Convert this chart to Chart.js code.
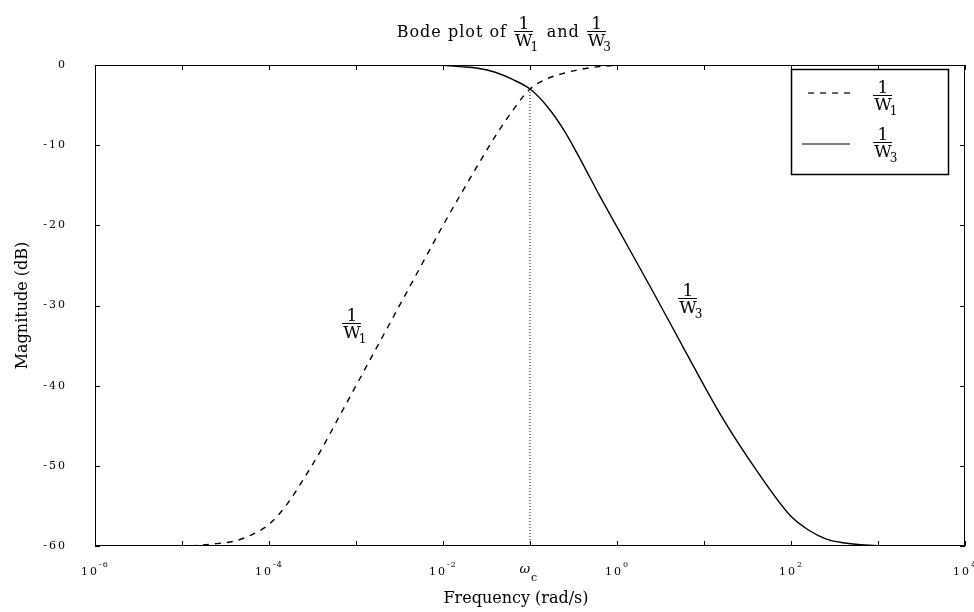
<!DOCTYPE html>
<html>
<head>
<meta charset="utf-8">
<script src="https://cdn.jsdelivr.net/npm/chart.js@4/dist/chart.umd.min.js"></script>
<style>
  body { margin: 0; background: #fff; }
  canvas { display: block; }
</style>
</head>
<body>
<canvas id="bode" width="974" height="612"></canvas>
<script>
// frequency exponents (log10 of rad/s) where the curves were read
const freqExp = [-6, -5, -4.6, -4.4, -4.2, -4, -3.8, -3.6, -3.4, -3.2, -3, -2.6, -2.2, -2, -1.8, -1.6,
  -1.4, -1.2, -1, -0.8, -0.6, -0.4, -0.2, 0, 0.4, 0.8, 1.2, 1.6, 2, 2.2, 2.4, 2.6, 2.8, 3, 4];

// 1/W1 (dashed), dB
const w1Mag = [-60, -60, -59.7, -59.4, -58.6, -57.3, -54.9, -51.6, -48, -44, -40, -32, -24, -20, -16.2, -12.5,
  -8.9, -5.7, -3, -1.7, -1.0, -0.5, -0.2, -0.05, 0, 0, 0, 0, 0, 0, 0, 0, 0, 0, 0];

// 1/W3 (solid), dB
const w3Mag = [0, 0, 0, 0, 0, 0, 0, 0, 0, 0, 0, 0, -0.02, -0.05, -0.2, -0.4,
  -0.9, -1.8, -3, -5.2, -8.3, -12.2, -16.3, -20.2, -28, -36, -43.8, -50.5, -56.3, -58, -59.1, -59.6, -59.85, -59.95, -60];

const wcExp = -1;              // crossover frequency omega_c
const xTickExp = [-6, -4, -2, 0, 2, 4];
const yTicks = [0, -10, -20, -30, -40, -50, -60];

const SERIF = '"DejaVu Serif", "Liberation Serif", serif';

function toPoints(mags) {
  return freqExp.map((e, i) => ({ x: Math.pow(10, e), y: mags[i] }));
}

// draw 1/W_n as a small fraction
function frac(ctx, cx, barY, sub, size) {
  ctx.letterSpacing = '0px';
  ctx.font = size + 'px ' + SERIF;
  const w = ctx.measureText('W').width;
  ctx.textAlign = 'center';
  ctx.textBaseline = 'alphabetic';
  ctx.fillText('1', cx, barY - 2);
  ctx.fillRect(Math.round(cx - w / 2 - 1), barY, Math.round(w + 2), 1);
  ctx.fillText('W', cx, barY + Math.round(size * 0.8) + 1);
  ctx.font = Math.round(size * 0.72) + 'px ' + SERIF;
  ctx.textAlign = 'left';
  ctx.fillText(sub, cx + w / 2 - 2, barY + Math.round(size * 1.15));
  return w + 2;
}

function seg(ctx, x1, y1, x2, y2) {
  ctx.beginPath();
  ctx.moveTo(x1, y1);
  ctx.lineTo(x2, y2);
  ctx.stroke();
}

const decor = {
  id: 'decor',
  afterDatasetsDraw(chart) {
    // y tick labels are drawn after this (ticks.z = 1): give them wide spacing
    chart.ctx.letterSpacing = '2px';
  },
  afterDraw(chart) {
    const { ctx, chartArea: a, scales: { x, y } } = chart;
    ctx.letterSpacing = '0px';
    ctx.save();
    ctx.strokeStyle = '#000';
    ctx.fillStyle = '#000';
    ctx.lineWidth = 1;

    // axes box
    ctx.strokeRect(a.left + 0.5, a.top + 0.5, a.right - a.left - 1, a.bottom - a.top - 1);

    // inward ticks, every decade
    for (let e = -6; e <= 4; e++) {
      const px = Math.round(x.getPixelForValue(Math.pow(10, e))) + 0.5;
      seg(ctx, px, a.bottom, px, a.bottom - 5);
      seg(ctx, px, a.top, px, a.top + 5);
    }
    yTicks.forEach(v => {
      const py = Math.round(y.getPixelForValue(v)) + 0.5;
      seg(ctx, a.left, py, a.left + 5, py);
      seg(ctx, a.right, py, a.right - 5, py);
    });

    // x tick labels
    ctx.textBaseline = 'alphabetic';
    xTickExp.forEach(e => {
      const px = x.getPixelForValue(Math.pow(10, e));
      ctx.letterSpacing = '2px';
      ctx.font = '11px ' + SERIF;
      const base = '10';
      const bw = ctx.measureText(base).width;
      ctx.letterSpacing = '1px';
      ctx.font = '8px ' + SERIF;
      const ex = String(e);
      const ew = ctx.measureText(ex).width;
      const left = px - (bw + ew) / 2;
      ctx.letterSpacing = '2px';
      ctx.font = '11px ' + SERIF;
      ctx.textAlign = 'left';
      ctx.fillText(base, left, a.bottom + 29);
      ctx.letterSpacing = '1px';
      ctx.font = '8px ' + SERIF;
      ctx.fillText(ex, left + bw, a.bottom + 21);
    });
    ctx.letterSpacing = '0px';
    // omega_c label
    const pc = x.getPixelForValue(Math.pow(10, wcExp));
    ctx.font = 'italic 13px ' + SERIF;
    ctx.textAlign = 'right';
    ctx.fillText('\u03c9', pc, a.bottom + 27);
    ctx.font = '11px ' + SERIF;
    ctx.textAlign = 'left';
    ctx.fillText('c', pc + 1, a.bottom + 35);

    // x axis title
    ctx.font = '16px ' + SERIF;
    ctx.textAlign = 'center';
    ctx.fillText('Frequency (rad/s)', 516, 603);

    // title: Bode plot of 1/W1 and 1/W3
    const fs = 16;
    ctx.font = fs + 'px ' + SERIF;
    ctx.letterSpacing = '1px';
    const t1 = 'Bode plot of ';
    const t2 = ' and ';
    const w1 = ctx.measureText(t1).width;
    const w2 = ctx.measureText(t2).width;
    ctx.letterSpacing = '0px';
    ctx.font = '17px ' + SERIF;
    const fw = ctx.measureText('W').width + 10;
    const total = w1 + fw + w2 + fw;
    let tx = 505 - total / 2;
    ctx.font = fs + 'px ' + SERIF;
    ctx.letterSpacing = '1px';
    ctx.textAlign = 'left';
    ctx.fillText(t1, tx, 37);
    tx += w1;
    frac(ctx, tx + fw / 2 - 3, 31, '1', 17);
    tx += fw;
    ctx.font = fs + 'px ' + SERIF;
    ctx.letterSpacing = '1px';
    ctx.textAlign = 'left';
    ctx.fillText(t2, tx, 37);
    tx += w2;
    frac(ctx, tx + fw / 2 - 3, 31, '3', 17);

    // labels next to the curves
    frac(ctx, 352, 323, '1', 17);
    frac(ctx, 688, 298, '3', 17);

    // legend
    ctx.fillStyle = '#fff';
    ctx.fillRect(791, 69, 158, 106);
    ctx.fillStyle = '#000';
    ctx.lineWidth = 1.5;
    ctx.strokeRect(791.5, 69.5, 157, 105);
    ctx.lineWidth = 1.2;
    ctx.setLineDash([6, 6]);
    seg(ctx, 808, 93, 850, 93);
    ctx.setLineDash([]);
    seg(ctx, 802, 144, 850, 144);
    frac(ctx, 883, 95, '1', 17);
    frac(ctx, 883, 142, '3', 17);

    ctx.restore();
  }
};

new Chart(document.getElementById('bode'), {
  type: 'line',
  data: {
    datasets: [
      {
        label: '1/W1',
        data: toPoints(w1Mag),
        borderColor: '#000',
        borderWidth: 1.4,
        borderDash: [6, 6],
        pointRadius: 0,
        cubicInterpolationMode: 'monotone'
      },
      {
        label: '1/W3',
        data: toPoints(w3Mag),
        borderColor: '#000',
        borderWidth: 1.4,
        pointRadius: 0,
        cubicInterpolationMode: 'monotone'
      },
      {
        label: 'wc',
        data: [{ x: Math.pow(10, wcExp), y: -3 }, { x: Math.pow(10, wcExp), y: -60 }],
        borderColor: '#000',
        borderWidth: 1,
        borderDash: [1, 2],
        pointRadius: 0
      }
    ]
  },
  options: {
    responsive: false,
    animation: false,
    layout: { padding: { top: 65, right: 9, left: 0, bottom: 0 } },
    plugins: {
      legend: { display: false },
      tooltip: { enabled: false },
      title: { display: false }
    },
    scales: {
      x: {
        type: 'logarithmic',
        min: 1e-6,
        max: 1e4,
        grid: { display: false },
        border: { display: false },
        ticks: { display: false },
        afterFit: s => { s.height = 66; }
      },
      y: {
        min: -60,
        max: 0,
        grid: { display: false },
        border: { display: false },
        afterBuildTicks: s => { s.ticks = yTicks.map(v => ({ value: v })); },
        ticks: {
          z: 1,
          color: '#000',
          padding: 20,
          font: { family: SERIF, size: 11 }
        },
        title: {
          display: true,
          text: 'Magnitude (dB)',
          color: '#000',
          font: { family: SERIF, size: 16 },
          padding: { top: 13, bottom: 0 }
        },
        afterFit: s => { s.width = 95; }
      }
    }
  },
  plugins: [decor]
});
</script>
</body>
</html>
